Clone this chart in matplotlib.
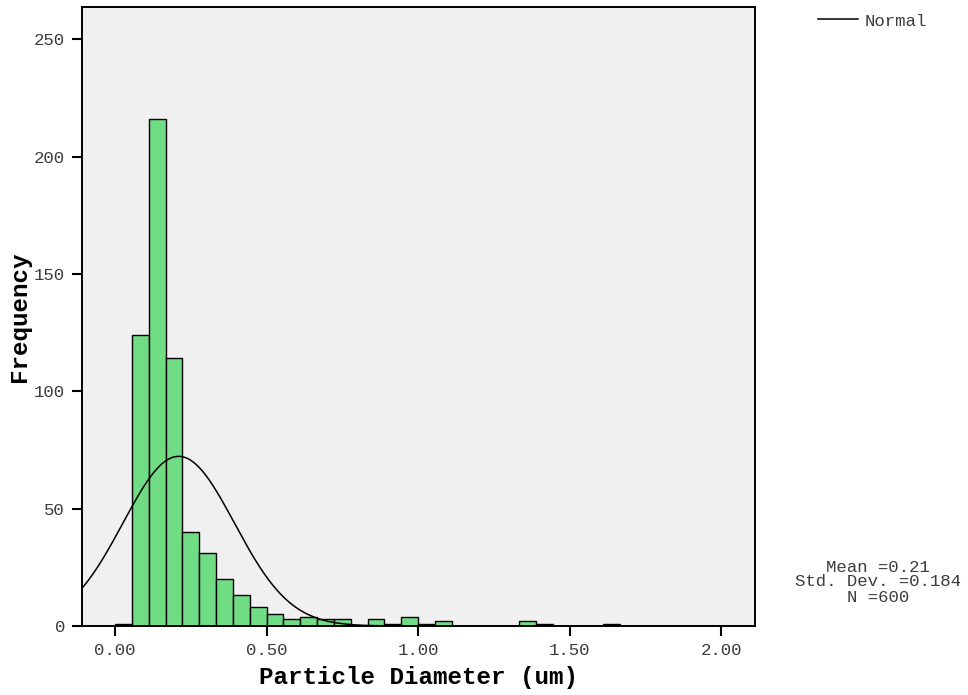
import numpy as np
import matplotlib
matplotlib.use("Agg")
import matplotlib.pyplot as plt

# Histogram of particle diameters with fitted normal curve
bin_width = 1.0 / 18.0
bin_counts = [1, 124, 216, 114, 40, 31, 20, 13, 8, 5,
              3, 4, 3, 3, 0, 3, 1, 4, 1, 2,
              0, 0, 0, 0, 2, 1, 0, 0, 0, 1]
bin_starts = [i * bin_width for i in range(len(bin_counts))]

mean_val = 0.21
std_val = 0.184
n_val = 600

x_ticks = [0.0, 0.5, 1.0, 1.5, 2.0]
x_tick_labels = ["0.00", "0.50", "1.00", "1.50", "2.00"]
y_ticks = [0, 50, 100, 150, 200, 250]

FONT = "Liberation Mono"

fig = plt.figure(figsize=(9.68, 6.95), dpi=100)
ax = fig.add_axes([0.0844, 0.0993, 0.6956, 0.8906])
ax.set_facecolor("#F0F0F0")

ax.bar(bin_starts, bin_counts, width=bin_width, align="edge",
       color="#70DC84", edgecolor="black", linewidth=1.0, zorder=2)

xmin, xmax = -0.110, 2.112
xs = np.linspace(xmin, xmax, 600)
ys = n_val * bin_width / (std_val * np.sqrt(2 * np.pi)) * np.exp(-0.5 * ((xs - mean_val) / std_val) ** 2)
ax.plot(xs, ys, color="black", linewidth=1.1, zorder=3)

ax.set_xlim(xmin, xmax)
ax.set_ylim(0, 263.7)
ax.set_xticks(x_ticks)
ax.set_xticklabels(x_tick_labels)
ax.set_yticks(y_ticks)

for s in ax.spines.values():
    s.set_linewidth(1.4)
    s.set_color("black")

ax.tick_params(axis="both", direction="out", length=7, width=1.5, color="black",
               labelsize=12.5, labelcolor="#3c3c3c", pad=5)
for lbl in ax.get_xticklabels() + ax.get_yticklabels():
    lbl.set_fontfamily(FONT)

ax.set_xlabel("Particle Diameter (um)", fontfamily=FONT, fontweight="bold",
              fontsize=17.5, labelpad=6)
ax.set_ylabel("Frequency", fontfamily=FONT, fontweight="bold",
              fontsize=17.5, labelpad=2)

# Legend entry for the normal curve
fig.add_artist(plt.Line2D([818 / 968, 858 / 968], [1 - 19 / 695, 1 - 19 / 695],
                          color="black", linewidth=1.1))
fig.text(865 / 968, 1 - 21 / 695, "Normal", fontfamily=FONT, fontsize=12.5,
         color="#3c3c3c", va="center", ha="left")

# Summary statistics
stats = [f"Mean ={mean_val:.2f}", f"Std. Dev. ={std_val:.3f}", f"N ={n_val}"]
for i, line in enumerate(stats):
    fig.text(878 / 968, 1 - (567 + 15 * i) / 695, line, fontfamily=FONT,
             fontsize=12.5, color="#3c3c3c", ha="center", va="center")

fig.savefig("out.png", dpi=100)
